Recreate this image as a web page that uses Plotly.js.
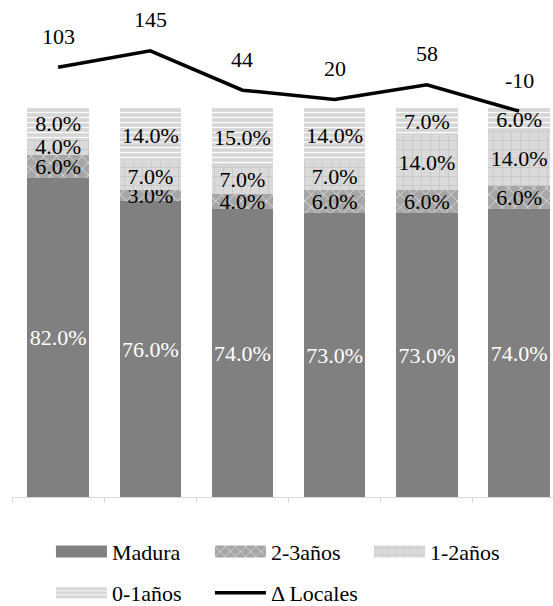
<!DOCTYPE html>
<html>
<head>
<meta charset="utf-8">
<script src="https://cdn.plot.ly/plotly-3.0.1.min.js"></script>
<style>
  html, body { margin: 0; padding: 0; background: #ffffff; }
  #chart { width: 553px; height: 606px; }
</style>
</head>
<body>
<div id="chart"></div>
<script>
// Periods (no labels are shown on the category axis)
const categories = ['P1', 'P2', 'P3', 'P4', 'P5', 'P6'];

// Share of premises by age band (%)
const madura   = [82, 76, 74, 73, 73, 74];
const anios23  = [6, 3, 4, 6, 6, 6];
const anios12  = [4, 7, 7, 7, 14, 14];
const anios01  = [8, 14, 15, 14, 7, 6];

// Net change in number of premises
const deltaLocales = [103, 145, 44, 20, 58, -10];

const FONT = 'Liberation Serif, Times New Roman, serif';
const pct = arr => arr.map(v => v.toFixed(1) + '%');

function barTrace(name, values, pattern, textColor, legendId) {
  return {
    type: 'bar',
    name: name,
    x: categories,
    y: values,
    text: pct(values),
    textposition: 'inside',
    insidetextanchor: 'middle',
    textangle: 0,
    constraintext: 'none',
    textfont: { family: FONT, size: 22, color: textColor },
    marker: { color: pattern.bg, pattern: pattern.shape ? {
      shape: pattern.shape, fgcolor: pattern.fg, bgcolor: pattern.bg,
      size: pattern.size, solidity: pattern.solidity, fillmode: 'replace'
    } : undefined, line: { width: 0 } },
    legend: legendId,
    hoverinfo: 'skip'
  };
}

const traces = [
  barTrace('Madura', madura, { bg: '#808080' }, '#ffffff', 'legend'),
  barTrace('2-3años', anios23, { shape: 'x', fg: '#ffffff', bg: '#a6a6a6', size: 9, solidity: 0.12 }, '#000000', 'legend'),
  barTrace('1-2años', anios12, { shape: '+', fg: '#bdbdbd', bg: '#dadada', size: 9, solidity: 0.12 }, '#000000', 'legend'),
  barTrace('0-1años', anios01, { shape: '-', fg: '#ffffff', bg: '#d6d6d6', size: 5, solidity: 0.25 }, '#000000', 'legend2'),
  {
    type: 'scatter',
    mode: 'lines',
    name: 'Δ Locales',
    x: categories,
    y: deltaLocales,
    yaxis: 'y2',
    line: { color: '#000000', width: 3.5 },
    legend: 'legend2',
    hoverinfo: 'skip'
  }
];

// value labels above the line
const annotations = deltaLocales.map((v, i) => ({
  x: categories[i], y: v, xref: 'x', yref: 'y2',
  text: String(v), showarrow: false, yshift: 31,
  font: { family: FONT, size: 22, color: '#000000' }
}));

const legendCommon = {
  orientation: 'h',
  xanchor: 'left',
  yanchor: 'middle',
  font: { family: FONT, size: 22, color: '#000000' },
  itemwidth: 51,
  entrywidth: 93,
  entrywidthmode: 'pixels',
  bgcolor: 'rgba(0,0,0,0)',
  traceorder: 'normal',
  itemclick: false,
  itemdoubleclick: false
};

const layout = {
  width: 553,
  height: 606,
  margin: { l: 12, r: 0, t: 10, b: 109, autoexpand: false },
  paper_bgcolor: '#ffffff',
  plot_bgcolor: '#ffffff',
  barmode: 'stack',
  bargap: 0.333,
  showlegend: true,
  font: { family: FONT, size: 22, color: '#000000' },
  xaxis: {
    type: 'category',
    range: [-0.5, 5.368],
    showticklabels: false,
    ticks: 'outside',
    tickson: 'boundaries',
    ticklen: 5,
    tickcolor: '#d9d9d9',
    showline: true,
    linecolor: '#d9d9d9',
    linewidth: 1,
    showgrid: false,
    zeroline: false,
    fixedrange: true
  },
  yaxis: {
    range: [0, 125.2],
    visible: false,
    showgrid: false,
    zeroline: false,
    fixedrange: true
  },
  yaxis2: {
    overlaying: 'y',
    range: [-1001.8, 250.1],
    visible: false,
    showgrid: false,
    zeroline: false,
    fixedrange: true
  },
  legend: Object.assign({}, legendCommon, { x: 0.072, y: -0.1123 }),
  legend2: Object.assign({}, legendCommon, { x: 0.072, y: -0.197 }),
  annotations: annotations
};

const gd = document.getElementById('chart');

// widen the square bar swatches in the legend to flat rectangles
function widenSwatches() {
  gd.querySelectorAll('g.legendpoints path').forEach(p => {
    const d = p.getAttribute('d') || '';
    if (d.replace(/\s/g, '') === 'M6,6H-6V-6H6Z') {
      p.setAttribute('d', 'M25.5,6H-25.5V-6H25.5Z');
    }
  });
}

Plotly.newPlot(gd, traces, layout, { displayModeBar: false, staticPlot: true })
  .then(() => {
    widenSwatches();
    requestAnimationFrame(widenSwatches);
    setTimeout(widenSwatches, 50);
    gd.on('plotly_afterplot', widenSwatches);
  });
</script>
</body>
</html>
